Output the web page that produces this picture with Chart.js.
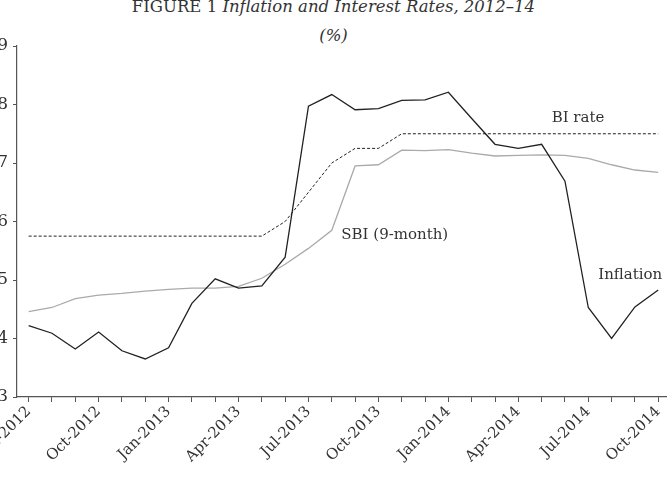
<!DOCTYPE html>
<html>
<head>
<meta charset="utf-8">
<script src="https://cdn.jsdelivr.net/npm/chart.js@4/dist/chart.umd.min.js"></script>
<style>
  html, body { margin: 0; padding: 0; background: #fff; overflow: hidden; }
  #wrap { position: relative; width: 667px; height: 480px; overflow: hidden; }
  #chartBox { position: absolute; left: -40px; top: 0; width: 712px; height: 480px; }
  .title { position: absolute; left: 0; width: 667px; text-align: center;
           font-family: "DejaVu Serif", serif; color: #333; font-size: 16.5px; }
  .title i { font-style: italic; }
</style>
</head>
<body>
<div id="wrap">
  <div class="title" style="top:-3px;">FIGURE 1 <i>Inflation and Interest Rates, 2012–14</i></div>
  <div class="title" style="top:26px;"><i>(%)</i></div>
  <div id="chartBox"><canvas id="myChart" width="712" height="480"></canvas></div>
</div>
<script>
var months = ["Jul-2012", "Aug-2012", "Sep-2012", "Oct-2012", "Nov-2012", "Dec-2012",
  "Jan-2013", "Feb-2013", "Mar-2013", "Apr-2013", "May-2013", "Jun-2013",
  "Jul-2013", "Aug-2013", "Sep-2013", "Oct-2013", "Nov-2013", "Dec-2013",
  "Jan-2014", "Feb-2014", "Mar-2014", "Apr-2014", "May-2014", "Jun-2014",
  "Jul-2014", "Aug-2014", "Sep-2014", "Oct-2014"];

var inflation = [4.22, 4.09, 3.82, 4.11, 3.79, 3.65,
  3.84, 4.60, 5.02, 4.86, 4.90, 5.39, 7.97, 8.17, 7.91, 7.93, 8.07, 8.08,
  8.21, 7.76, 7.32, 7.25, 7.32, 6.69, 4.53, 4.00, 4.54, 4.83];

var sbi = [4.46, 4.53, 4.68, 4.74, 4.77, 4.81,
  4.84, 4.86, 4.86, 4.89, 5.03, 5.27, 5.54, 5.85, 6.95, 6.97, 7.22, 7.21,
  7.23, 7.17, 7.12, 7.13, 7.14, 7.13, 7.08, 6.97, 6.88, 6.84];

var biRate = [5.75, 5.75, 5.75, 5.75, 5.75, 5.75,
  5.75, 5.75, 5.75, 5.75, 5.75, 6.00, 6.50, 7.00, 7.25, 7.25, 7.50, 7.50,
  7.50, 7.50, 7.50, 7.50, 7.50, 7.50, 7.50, 7.50, 7.50, 7.50];

var yTicks = [3, 4, 5, 6, 7, 8, 9];

// text labels placed next to the lines (index, value)
var seriesLabels = [
  { text: "BI rate", i: 23.56, v: 7.77 },
  { text: "SBI (9-month)", i: 15.7, v: 5.77 },
  { text: "Inflation", i: 25.8, v: 5.09 }
];

var labelPlugin = {
  id: "lineLabels",
  afterDatasetsDraw: function (chart) {
    var ctx = chart.ctx;
    var x = chart.scales.x, y = chart.scales.y;
    var step = x.getPixelForValue(1) - x.getPixelForValue(0);
    ctx.save();
    ctx.font = "15px 'DejaVu Serif', serif";
    ctx.fillStyle = "#333";
    ctx.textAlign = "center";
    ctx.textBaseline = "middle";
    seriesLabels.forEach(function (l) {
      ctx.fillText(l.text, x.getPixelForValue(0) + step * l.i, y.getPixelForValue(l.v));
    });
    ctx.restore();
  }
};

var ctx = document.getElementById("myChart");

new Chart(ctx, {
  type: "line",
  data: {
    labels: months,
    datasets: [
      { label: "Inflation", data: inflation, borderColor: "#222", borderWidth: 1.3 },
      { label: "SBI (9-month)", data: sbi, borderColor: "#aaa", borderWidth: 1.3 },
      { label: "BI rate", data: biRate, borderColor: "#222", borderWidth: 1, borderDash: [3, 2] }
    ]
  },
  options: {
    responsive: false,
    animation: false,
    layout: { padding: { top: 46, right: 2, left: 0, bottom: 0 } },
    elements: { point: { radius: 0 }, line: { tension: 0 } },
    plugins: { legend: { display: false }, tooltip: { enabled: false } },
    scales: {
      x: {
        offset: true,
        grid: { offset: false, drawOnChartArea: false, tickLength: 5, color: "#555" },
        border: { color: "#555", width: 1.2 },
        ticks: {
          autoSkip: false, maxRotation: 45, minRotation: 45, padding: 1,
          color: "#333", font: { family: "'DejaVu Serif', serif", size: 15 },
          callback: function (val, i) { return i % 3 === 0 ? months[i] : ""; }
        },
        afterFit: function (s) { s.height = 83; }
      },
      y: {
        min: 3, max: 9,
        afterBuildTicks: function (s) { s.ticks = yTicks.map(function (v) { return { value: v }; }); },
        grid: { drawOnChartArea: false, tickLength: 4, color: "#555" },
        border: { color: "#555", width: 1.2 },
        ticks: { padding: 5, color: "#333", font: { family: "'DejaVu Serif', serif", size: 17 } },
        afterFit: function (s) { s.width = 57; }
      }
    }
  },
  plugins: [labelPlugin]
});
</script>
</body>
</html>
